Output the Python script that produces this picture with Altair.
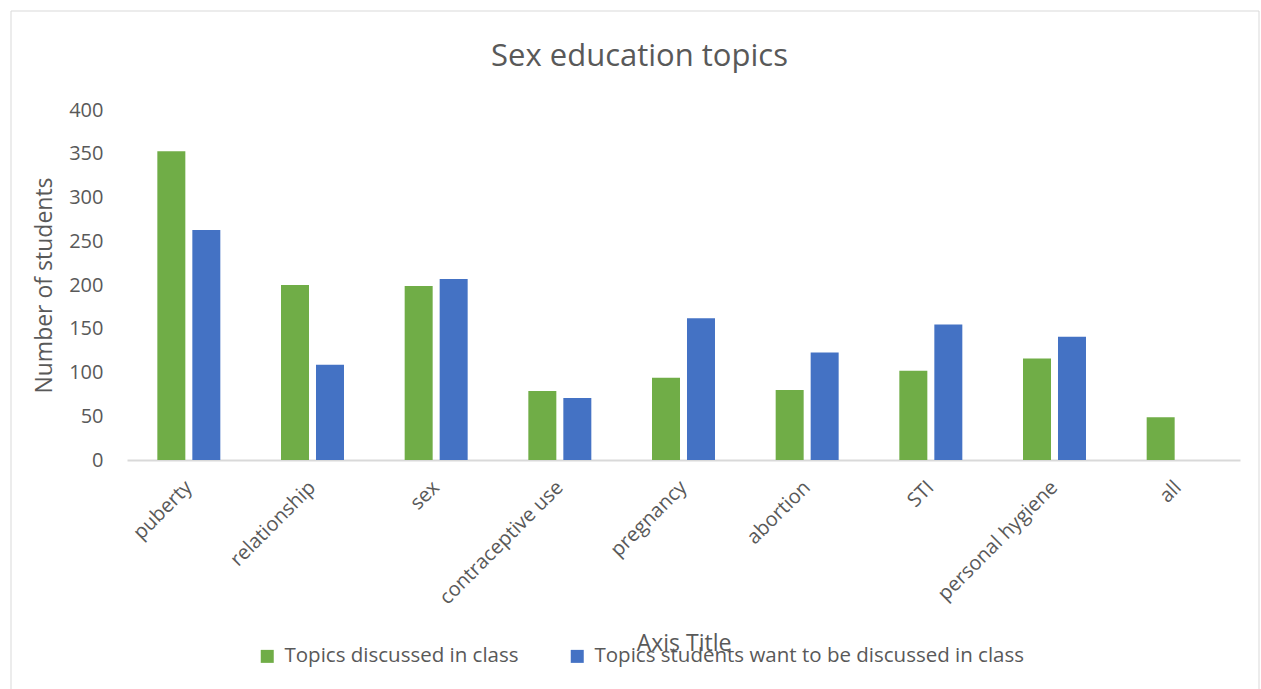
import altair as alt
import pandas as pd

topics = ["puberty", "relationship", "sex", "contraceptive use", "pregnancy",
          "abortion", "STI", "personal hygiene", "all"]
discussed = [353, 200, 199, 79, 94, 80, 102, 116, 49]
wanted = [263, 109, 207, 71, 162, 123, 155, 141, None]
series = ["Topics discussed in class", "Topics students want to be discussed in class"]
colors = ["#70AD47", "#4472C4"]
y_ticks = [0, 50, 100, 150, 200, 250, 300, 350, 400]

rows = []
for t, d, w in zip(topics, discussed, wanted):
    rows.append({"topic": t, "series": series[0], "value": d})
    if w is not None:
        rows.append({"topic": t, "series": series[1], "value": w})
df = pd.DataFrame(rows)

FONT = "Open Sans"
GREY = "#595959"
W, H = 1113, 350

bars = alt.Chart(df).mark_bar().encode(
    x=alt.X("topic:N", sort=topics,
            scale=alt.Scale(paddingInner=0, paddingOuter=0),
            axis=alt.Axis(title="Axis Title", labelAngle=-45, labelAlign="right",
                          labelBaseline="middle", labelPadding=24, ticks=False,
                          domainColor="#D9D9D9", domainWidth=2,
                          labelFontSize=20, labelColor=GREY, labelFont=FONT,
                          titleFontSize=23, titleColor=GREY, titleFont=FONT,
                          titleFontWeight="normal", titleY=183, titleBaseline="middle")),
    xOffset=alt.XOffset("series:N", sort=series,
                        scale=alt.Scale(domain=series, paddingInner=0.2, paddingOuter=0.867)),
    y=alt.Y("value:Q", scale=alt.Scale(domain=[0, 400]),
            axis=alt.Axis(values=y_ticks, title="Number of students", grid=False,
                          domain=False, ticks=False, labelPadding=24,
                          labelFontSize=20, labelColor=GREY, labelFont=FONT,
                          titleFontSize=23, titleColor=GREY, titleFont=FONT,
                          titleFontWeight="normal", titlePadding=12)),
    color=alt.Color("series:N", sort=series,
                    scale=alt.Scale(domain=series, range=colors),
                    legend=alt.Legend(orient="none", legendX=130, legendY=536,
                                      direction="horizontal", title=None,
                                      symbolType="square", symbolSize=169,
                                      symbolStrokeWidth=0, labelFontSize=20.5,
                                      labelColor=GREY, labelFont=FONT,
                                      labelOffset=7, columnPadding=48,
                                      labelLimit=600)),
)

border = alt.Chart(pd.DataFrame({"a": [0]})).mark_rect(
    fill="transparent", stroke="#D9D9D9", strokeWidth=1
).encode(x=alt.value(-116), x2=alt.value(1132), y=alt.value(-99), y2=alt.value(590))

chart = alt.layer(border, bars).properties(
    width=W, height=H,
    autosize=alt.AutoSizeParams(type="none"),
    padding={"left": 127, "top": 110, "right": 21, "bottom": 229},
    title=alt.TitleParams("Sex education topics", fontSize=31, color=GREY, font=FONT,
                          fontWeight="normal", anchor="middle", dx=-44, offset=-62),
).configure(background="white").configure_view(stroke=None)

chart.save("out.html", embed_options={"renderer": "svg", "actions": False})
